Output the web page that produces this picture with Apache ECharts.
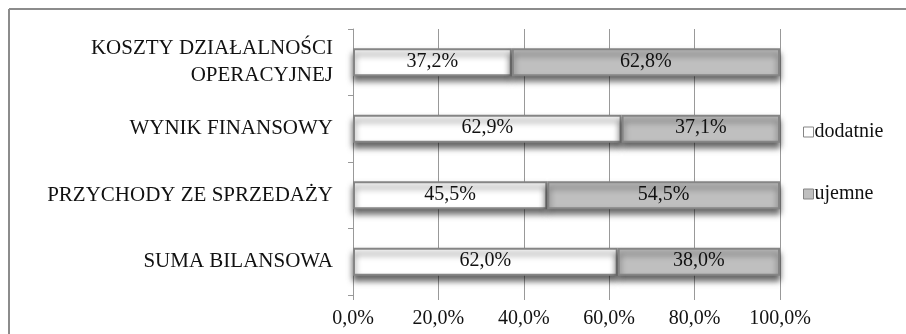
<!DOCTYPE html>
<html>
<head>
<meta charset="utf-8">
<script src="https://cdn.jsdelivr.net/npm/echarts@6/dist/echarts.min.js"></script>
<style>
html,body{margin:0;padding:0;background:#fff;}
#chart{width:906px;height:334px;}
</style>
</head>
<body>
<div id="chart"></div>
<script>
var categories = ['SUMA BILANSOWA', 'PRZYCHODY ZE SPRZEDAŻY', 'WYNIK FINANSOWY', 'KOSZTY DZIAŁALNOŚCI\nOPERACYJNEJ'];
var dodatnie = [62.0, 45.5, 62.9, 37.2];
var ujemne = [38.0, 54.5, 37.1, 62.8];
var xTicks = [0, 20, 40, 60, 80, 100];

function fmt(v) { return v.toFixed(1).replace('.', ',') + '%'; }

var FONT = '"Liberation Serif", "Times New Roman", serif';
var chart = echarts.init(document.getElementById('chart'));
var barStyle = function (color) {
  return {
    color: color,
    borderColor: '#858585',
    borderWidth: 2,
    shadowColor: 'rgba(0,0,0,0.6)',
    shadowBlur: 6,
    shadowOffsetY: 5
  };
};
var labelCfg = {
  show: true,
  position: 'inside',
  color: '#111',
  fontFamily: FONT,
  fontSize: 20,
  offset: [0, -1],
  formatter: function (p) { return fmt(p.value); }
};
chart.setOption({
  animation: false,
  backgroundColor: '#fff',
  textStyle: { fontFamily: FONT },
  graphic: [
    { type: 'line', shape: { x1: 9, y1: 9, x2: 906, y2: 9 }, style: { stroke: '#8c8c8c', lineWidth: 2 } },
    { type: 'line', shape: { x1: 9, y1: 9, x2: 9, y2: 334 }, style: { stroke: '#8c8c8c', lineWidth: 2 } }
  ],
  legend: {
    orient: 'vertical',
    left: 798,
    top: 117,
    itemGap: 42,
    itemWidth: 10,
    itemHeight: 10,
    icon: 'rect',
    textStyle: { fontFamily: FONT, fontSize: 20, color: '#111', padding: [0, 0, 0, -4] },
    data: [
      { name: 'dodatnie', itemStyle: { color: '#ffffff', borderColor: '#858585', borderWidth: 1, shadowBlur: 0, shadowOffsetY: 0 } },
      { name: 'ujemne', itemStyle: { color: '#bfbfbf', borderColor: '#858585', borderWidth: 1, shadowBlur: 0, shadowOffsetY: 0 } }
    ]
  },
  grid: { left: 353, right: 126, top: 29, bottom: 39, containLabel: false },
  xAxis: {
    type: 'value',
    min: 0,
    max: 100,
    interval: 20,
    axisLine: { show: false },
    axisTick: { show: true, length: 5, lineStyle: { color: '#999' } },
    splitLine: { show: true, lineStyle: { color: '#999', width: 1 } },
    axisLabel: {
      margin: 14,
      color: '#111',
      fontFamily: FONT,
      fontSize: 20,
      formatter: function (v) { return xTicks.indexOf(v) >= 0 ? fmt(v) : ''; }
    }
  },
  yAxis: {
    type: 'category',
    data: categories,
    axisLine: { show: true, lineStyle: { color: '#999' } },
    axisTick: { show: true, length: 5, lineStyle: { color: '#999' } },
    axisLabel: {
      margin: 20,
      color: '#111',
      fontFamily: FONT,
      fontSize: 21,
      lineHeight: 27,
      align: 'right'
    }
  },
  series: [
    { name: 'dodatnie', type: 'bar', stack: 't', barWidth: 28, data: dodatnie, itemStyle: barStyle('#ffffff'), label: labelCfg },
    { name: 'ujemne', type: 'bar', stack: 't', barWidth: 28, data: ujemne, itemStyle: barStyle('#bfbfbf'), label: labelCfg }
  ]
});
</script>
</body>
</html>
